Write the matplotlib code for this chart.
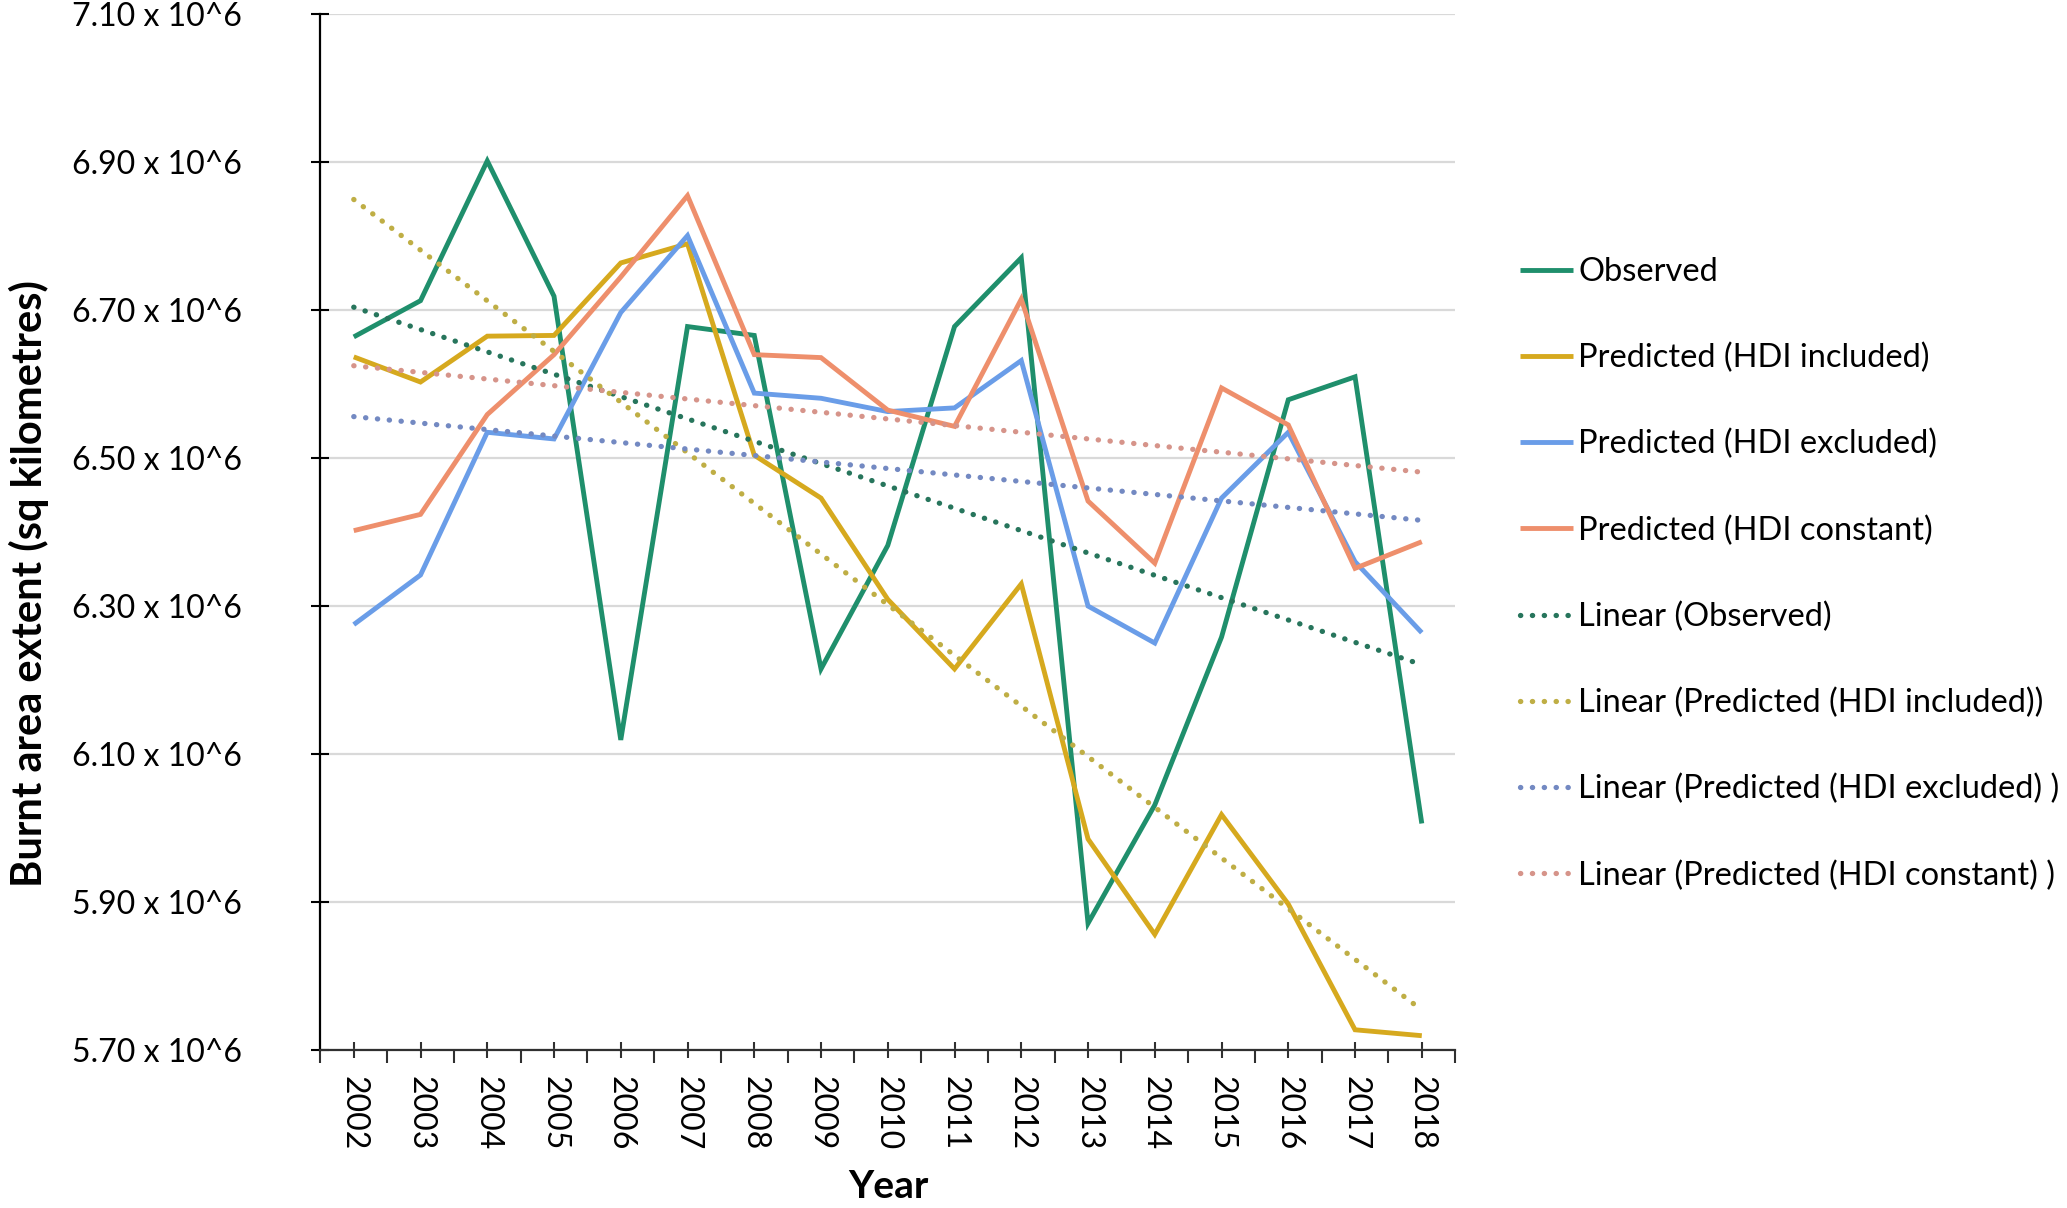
import numpy as np
import matplotlib
matplotlib.use("Agg")
import matplotlib.pyplot as plt
from matplotlib.ticker import FuncFormatter, MultipleLocator

# ── Data (burnt area, units of 10^6 sq km) ─────────────────────
years = list(range(2002, 2019))

observed     = [6.664, 6.713, 6.902, 6.719, 6.119, 6.678, 6.666, 6.215, 6.382,
                6.678, 6.771, 5.871, 6.031, 6.258, 6.579, 6.610, 6.006]
hdi_included = [6.637, 6.603, 6.665, 6.666, 6.764, 6.790, 6.504, 6.446, 6.309,
                6.215, 6.330, 5.985, 5.856, 6.018, 5.897, 5.727, 5.719]
hdi_excluded = [6.275, 6.342, 6.535, 6.526, 6.697, 6.801, 6.588, 6.581, 6.563,
                6.568, 6.632, 6.300, 6.250, 6.446, 6.535, 6.360, 6.264]
hdi_constant = [6.402, 6.424, 6.559, 6.640, 6.745, 6.855, 6.640, 6.636, 6.565,
                6.543, 6.715, 6.442, 6.358, 6.595, 6.545, 6.351, 6.387]

series_labels = ["Observed", "Predicted (HDI included)",
                 "Predicted (HDI excluded)", "Predicted (HDI constant)"]
trend_labels = ["Linear (Observed)", "Linear (Predicted (HDI included))",
                "Linear (Predicted (HDI excluded) )", "Linear (Predicted (HDI constant) )"]

# Colors
GREEN  = "#1f8f6c"
YELLOW = "#d6a91e"
BLUE   = "#6a9de8"
ORANGE = "#ee8f6c"
line_colors  = [GREEN, YELLOW, BLUE, ORANGE]
trend_colors = ["#27755c", "#bfae45", "#7389c2", "#d6948a"]

REG = ["Lato", "DejaVu Sans"]

fig = plt.figure(figsize=(20.67, 12.08), dpi=100)
ax = fig.add_axes([0.155, 0.131, 0.549, 0.857])

x = np.array(years)
data = [observed, hdi_included, hdi_excluded, hdi_constant]

handles = []
for vals, col, lab in zip(data, line_colors, series_labels):
    h, = ax.plot(x, vals, color=col, lw=3.5, label=lab, solid_capstyle="butt",
                 solid_joinstyle="miter", zorder=3)
    handles.append(h)

# linear trendlines, like Excel
for vals, col, lab in zip(data, trend_colors, trend_labels):
    k, b = np.polyfit(x, vals, 1)
    h, = ax.plot(x, k * x + b, color=col, lw=3.8, linestyle=(0, (0.05, 2.2)),
                 dash_capstyle="round", label=lab, zorder=4)
    handles.append(h)

ax.set_xlim(2001.5, 2018.5)
ax.set_ylim(5.70, 7.10)
ax.set_yticks(np.arange(5.70, 7.101, 0.20))
ax.yaxis.set_major_formatter(FuncFormatter(lambda v, p: f"{v:.2f} x 10^6"))
ax.set_xticks(years)
ax.set_xticklabels([str(y) for y in years], rotation=-90, family=REG, fontsize=23)
ax.xaxis.set_minor_locator(MultipleLocator(1, offset=0.5))

ax.grid(axis="y", color="#d9d9d9", lw=1.6, zorder=0)
ax.set_axisbelow(True)
for s in ["top", "right"]:
    ax.spines[s].set_visible(False)
ax.spines["left"].set_color("black")
ax.spines["left"].set_linewidth(1.6)
ax.spines["bottom"].set_color("#303030")
ax.spines["bottom"].set_linewidth(1.6)

ax.tick_params(axis="y", direction="inout", length=13, width=1.5, pad=50,
               labelsize=23, colors="black")
ax.tick_params(axis="x", which="major", direction="inout", length=12, width=1.5,
               pad=13, color="#303030")
ax.tick_params(axis="x", which="minor", direction="out", length=9, width=1.5,
               color="#303030")
for t in ax.get_yticklabels():
    t.set_family(REG)

fig.text(29 / 2067, 1 - 584 / 1208, "Burnt area extent (sq kilometres)",
         rotation=90, ha="center", va="center", fontsize=30, fontweight="bold",
         family=REG)
fig.text(888 / 2067, 1 - 1187 / 1208, "Year", ha="center", va="center",
         fontsize=28, fontweight="bold", family=REG)

fig.legend(handles=handles, loc="upper left",
           bbox_to_anchor=(1520 / 2067, 1 - 257 / 1208),
           frameon=False, borderpad=0, borderaxespad=0,
           handlelength=1.63, handletextpad=0.16, labelspacing=1.71,
           prop={"family": REG, "size": 23.5})

plt.savefig("out.png", dpi=100)
